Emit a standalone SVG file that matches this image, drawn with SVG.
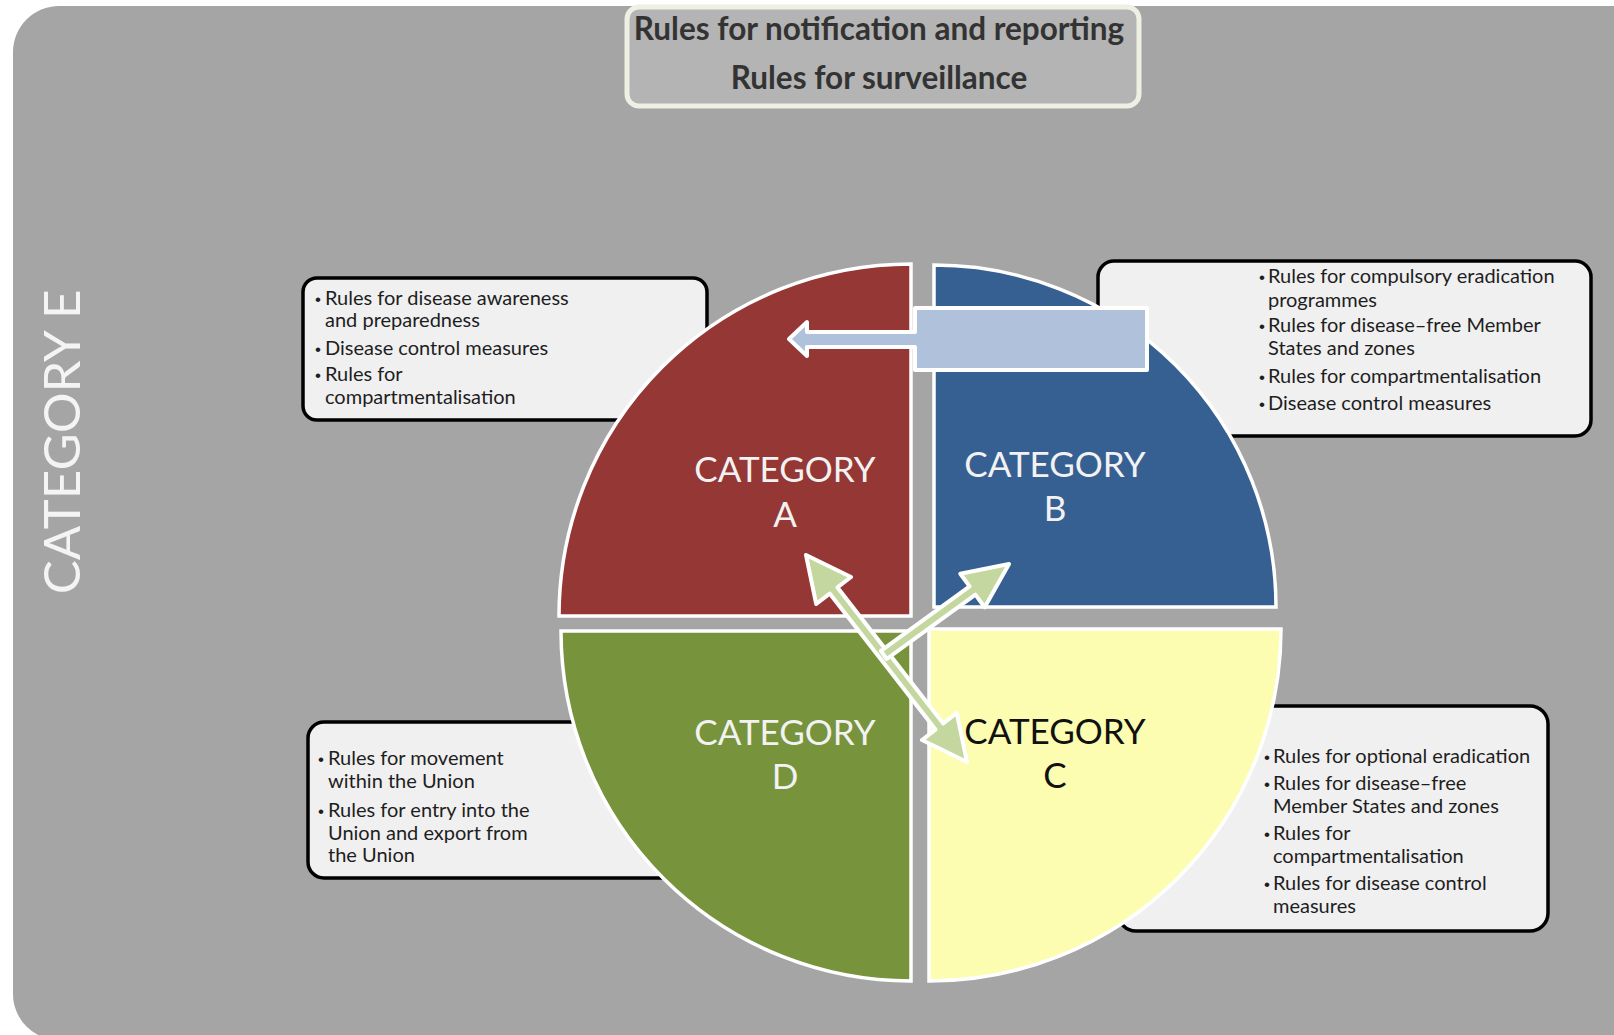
<svg xmlns="http://www.w3.org/2000/svg" width="1614" height="1035" viewBox="0 0 1614 1035">
<style>
.body{font-family:Lato,"Liberation Sans",sans-serif;font-size:20px;fill:#1e1e1e}
.bul{font-family:"Liberation Sans",sans-serif;font-size:17px;fill:#1e1e1e;text-anchor:middle}
.box{fill:#f0f0f0;stroke:#000;stroke-width:3.5}
.sec{stroke:#fff;stroke-width:3.5}
.cat{font-family:Lato,"Liberation Sans",sans-serif;font-size:35px;text-anchor:middle}
.hdr{font-family:Lato,"Liberation Sans",sans-serif;font-size:31.5px;font-weight:bold;fill:#333;text-anchor:middle}
.garrow{fill:#c4d79f;stroke:#fff;stroke-width:4;stroke-linejoin:round}
</style>
<rect width="1614" height="1035" fill="#fff"/>
<rect id="categoryE-bg" x="13" y="6" width="1650" height="1034" rx="46" fill="#a5a5a5"/>
<text id="categoryE" transform="translate(80,442) rotate(-90)" font-family="Lato,'Liberation Sans',sans-serif" font-size="51" fill="#f4f4f4" text-anchor="middle">CATEGORY E</text>

<g id="top-box">
<rect x="627" y="7" width="512" height="99" rx="12" fill="#b4b4b4" stroke="#efefe4" stroke-width="5"/>
<text class="hdr" x="879" y="40">Rules for notification and reporting</text>
<text class="hdr" x="879" y="89">Rules for surveillance</text>
</g>

<g id="box-a">
<rect class="box" x="303" y="278" width="404" height="142" rx="14"/>
<text class="bul" x="318" y="305">•</text>
<text class="body" x="325" y="305">Rules for disease awareness</text>
<text class="body" x="325" y="327">and preparedness</text>
<text class="bul" x="318" y="355">•</text>
<text class="body" x="325" y="355">Disease control measures</text>
<text class="bul" x="318" y="381">•</text>
<text class="body" x="325" y="381">Rules for</text>
<text class="body" x="325" y="404">compartmentalisation</text>
</g>

<g id="box-b">
<rect class="box" x="1098" y="261" width="493" height="175" rx="16"/>
<text class="bul" x="1262" y="283">•</text>
<text class="body" x="1268" y="283">Rules for compulsory eradication</text>
<text class="body" x="1268" y="307">programmes</text>
<text class="bul" x="1262" y="332">•</text>
<text class="body" x="1268" y="332">Rules for disease–free Member</text>
<text class="body" x="1268" y="355">States and zones</text>
<text class="bul" x="1262" y="383">•</text>
<text class="body" x="1268" y="383">Rules for compartmentalisation</text>
<text class="bul" x="1262" y="410">•</text>
<text class="body" x="1268" y="410">Disease control measures</text>
</g>

<g id="box-d">
<rect class="box" x="308" y="722" width="412" height="156" rx="16"/>
<text class="bul" x="321" y="765">•</text>
<text class="body" x="328" y="765">Rules for movement</text>
<text class="body" x="328" y="788">within the Union</text>
<text class="bul" x="321" y="817">•</text>
<text class="body" x="328" y="817">Rules for entry into the</text>
<text class="body" x="328" y="840">Union and export from</text>
<text class="body" x="328" y="862">the Union</text>
</g>

<g id="box-c">
<rect class="box" x="1118" y="706" width="430" height="225" rx="18"/>
<text class="bul" x="1267" y="763">•</text>
<text class="body" x="1273" y="763">Rules for optional eradication</text>
<text class="bul" x="1267" y="790">•</text>
<text class="body" x="1273" y="790">Rules for disease–free</text>
<text class="body" x="1273" y="813">Member States and zones</text>
<text class="bul" x="1267" y="840">•</text>
<text class="body" x="1273" y="840">Rules for</text>
<text class="body" x="1273" y="863">compartmentalisation</text>
<text class="bul" x="1267" y="890">•</text>
<text class="body" x="1273" y="890">Rules for disease control</text>
<text class="body" x="1273" y="913">measures</text>
</g>

<g id="category-a">
<path class="sec" d="M911 616 L559 616 A352 352 0 0 1 911 264 Z" fill="#953735"/>
<text class="cat" x="785" y="482" fill="#f2f2f2">CATEGORY</text>
<text class="cat" x="785" y="527" fill="#f2f2f2">A</text>
</g>
<g id="category-b">
<path class="sec" d="M934 607 L934 265 A342 342 0 0 1 1276 607 Z" fill="#376092"/>
<text class="cat" x="1055" y="477" fill="#f2f2f2">CATEGORY</text>
<text class="cat" x="1055" y="521" fill="#f2f2f2">B</text>
</g>
<g id="category-d">
<path class="sec" d="M911 631 L911 981 A350 350 0 0 1 561 631 Z" fill="#77933c"/>
<text class="cat" x="785" y="745" fill="#f2f2f2">CATEGORY</text>
<text class="cat" x="785" y="789" fill="#f2f2f2">D</text>
</g>
<g id="category-c">
<path class="sec" d="M929 629 L1281 629 A352 352 0 0 1 929 981 Z" fill="#fcfdb0"/>
<text class="cat" x="1055" y="744" fill="#111">CATEGORY</text>
<text class="cat" x="1055" y="788" fill="#111">C</text>
</g>

<g id="connectors">
<polygon id="arrow-b-to-a" points="789,339 807,322 807,332 915,332 915,308 1147,308 1147,370 915,370 915,347 807,347 807,356" fill="#b0c1dc" stroke="#fff" stroke-width="4" stroke-linejoin="round"/>
<polygon id="arrow-a-c" class="garrow" points="806,555 851,577 837.5,587.4 943.3,723.4 956.8,713 967,762 922,740 935.5,729.6 829.7,593.6 816.2,604"/>
<polygon id="arrow-to-b" class="garrow" points="1009,564 984.7,607.3 975.4,594.6 886.7,659 880.9,650.8 969.6,586.4 960.3,573.7"/>
</g>
</svg>
